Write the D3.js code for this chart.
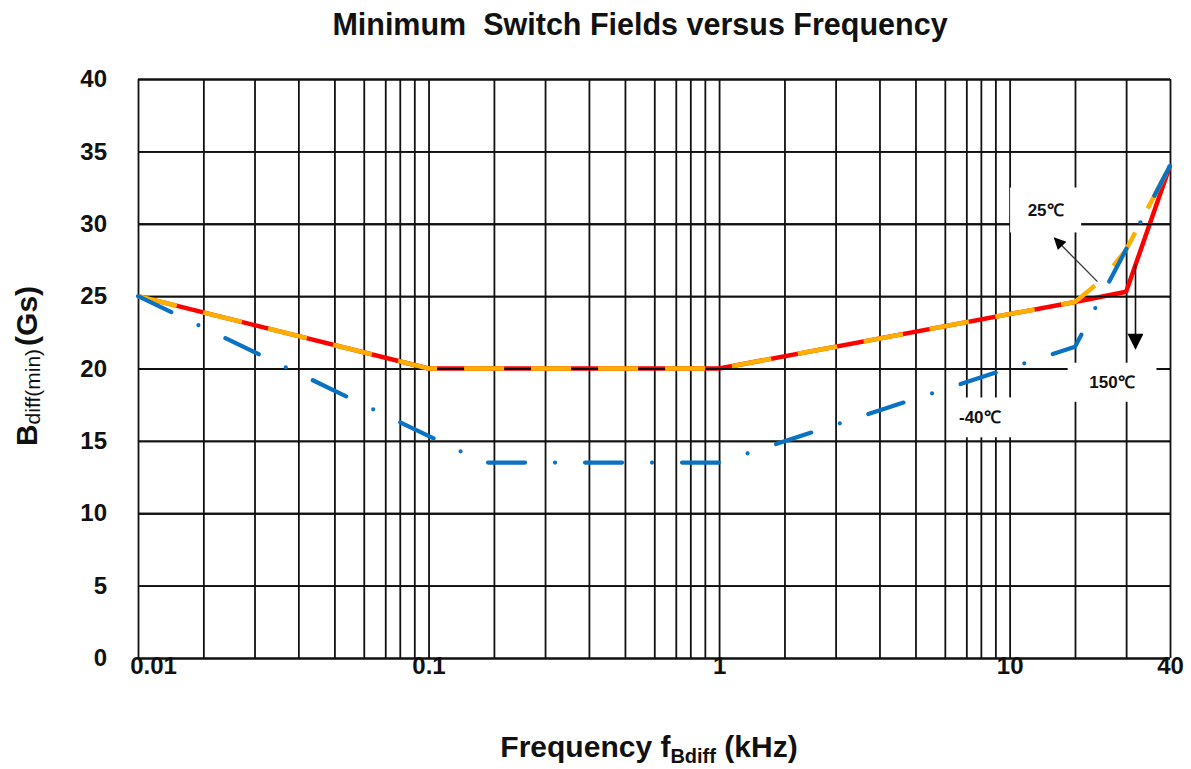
<!DOCTYPE html>
<html>
<head>
<meta charset="utf-8">
<script src="https://cdn.jsdelivr.net/npm/d3@7"></script>
<style>
  body { margin: 0; background: #fff; }
  svg { display: block; }
  text { font-family: "Liberation Sans", Arial, Helvetica, sans-serif; }
</style>
</head>
<body>
<svg id="chart" width="1191" height="769"></svg>
<script>
// ---------------- data ----------------
const chartTitle = "Minimum  Switch Fields versus Frequency";
const freqMin = 0.01;
const freqMax = 40;
const freqTicks = [0.01, 0.1, 1, 10, 40];
const freqTickLabels = ["0.01", "0.1", "1", "10", "40"];
const fieldTicks = [0, 5, 10, 15, 20, 25, 30, 35, 40];
const gridMantissas = [1, 2, 3, 4, 5, 6, 7, 8, 9];

// 150 °C (red, solid)
const freq150 = [0.01, 0.1, 1, 20, 30, 40];
const field150 = [25, 20, 20, 24.6, 25.3, 34];
// 25 °C (orange, dashed)
const freq25 = [0.01, 0.1, 1, 20, 25, 30, 40];
const field25 = [25, 20, 20, 24.6, 26.2, 28.2, 34];
// -40 °C (blue, dash-dot)
const freqM40 = [0.01, 0.18, 1, 20, 40];
const fieldM40 = [25, 13.5, 13.5, 21.5, 34];

// annotations (data units)
const annoLabels = ["25\u2103", "150\u2103", "-40\u2103"];
const annoBoxFreq = [[10.05, 21], [18.5, 36.6], [6.1, 10.3]];
const annoBoxField = [[29.4, 32.5], [17.7, 20.4], [15.25, 18.0]];
const arrowFrom = [[23.9, 26.0], [31.9, 27.2]];
const arrowTo = [[16.1, 29.0], [31.9, 21.4]];

// ---------------- layout ----------------
const plot = { x0: 138, x1: 1170, y0: 79, y1: 658 };
// relative position of mantissas 1..10 inside a decade on the printed grid
const mantissaFrac = [0, 0.225, 0.401, 0.552, 0.676, 0.777, 0.851, 0.901, 0.951, 1];

const svg = d3.select("#chart");

const eMin = Math.round(Math.log10(freqMin));
const eMax = Math.floor(Math.log10(freqMax) + 1e-9);
const mMax = Math.round(freqMax / Math.pow(10, eMax));
const decadeW = (plot.x1 - plot.x0) / ((eMax - eMin) + mantissaFrac[mMax - 1]);

const gridVals = [];
for (let e = eMin; e <= eMax; e++) {
  gridMantissas.forEach(m => {
    const v = +(m * Math.pow(10, e)).toPrecision(6);
    if (v <= freqMax + 1e-9) gridVals.push(v);
  });
}
function gridPos(v) {
  const e = Math.floor(Math.log10(v) + 1e-9);
  const m = Math.round(v / Math.pow(10, e));
  return plot.x0 + (e - eMin) * decadeW + mantissaFrac[m - 1] * decadeW;
}
const xs = d3.scaleLinear()
  .domain(gridVals.map(v => Math.log10(v)))
  .range(gridVals.map(gridPos));
const x = v => xs(Math.log10(v));
const y = d3.scaleLinear().domain([0, 40]).range([plot.y1, plot.y0]);

// ---------------- grid ----------------
const gridColor = "#111";
const gridW = 1.8;
const vGrid = svg.append("g")
  .attr("transform", `translate(0,${plot.y1})`)
  .call(d3.axisBottom(xs).tickValues(gridVals.map(v => Math.log10(v)))
    .tickSize(-(plot.y1 - plot.y0)).tickFormat(""));
vGrid.select(".domain").remove();
vGrid.selectAll("line").attr("stroke", gridColor).attr("stroke-width", gridW);

function drawHGrid() {
  const g = svg.append("g")
    .attr("transform", `translate(${plot.x0},0)`)
    .call(d3.axisLeft(y).tickValues(fieldTicks)
      .tickSize(-(plot.x1 - plot.x0)).tickFormat(""));
  g.select(".domain").remove();
  g.selectAll("line").attr("stroke", gridColor).attr("stroke-width", gridW);
}
drawHGrid();

// ---------------- lines ----------------
const line = d3.line().x(d => x(d[0])).y(d => y(d[1]));
const pts = (fs, bs) => fs.map((f, i) => [f, bs[i]]);

svg.append("path")
  .attr("d", line(pts(freq150, field150)))
  .attr("fill", "none").attr("stroke", "#ff0000")
  .attr("stroke-width", 4.5).attr("stroke-linejoin", "round");

// gridlines show through the red curve where they coincide
drawHGrid();

// annotation boxes mask the grid
annoLabels.forEach((lab, i) => {
  const fx = annoBoxFreq[i], by = annoBoxField[i];
  svg.append("rect")
    .attr("x", x(fx[0])).attr("y", y(by[1]))
    .attr("width", x(fx[1]) - x(fx[0]))
    .attr("height", y(by[0]) - y(by[1]))
    .attr("fill", "#fff");
});

svg.append("path")
  .attr("d", line(pts(freq25, field25)))
  .attr("fill", "none").attr("stroke", "#fdb000")
  .attr("stroke-width", 4.5).attr("stroke-dasharray", "40 27")
  .attr("stroke-linejoin", "round");

svg.append("path")
  .attr("d", line(pts(freqM40, fieldM40)))
  .attr("fill", "none").attr("stroke", "#0a72c2")
  .attr("stroke-width", 4.2).attr("stroke-linecap", "round")
  .attr("stroke-dasharray", "37 30 0 30")
  .attr("stroke-linejoin", "round");

// ---------------- annotation text & arrows ----------------
annoLabels.forEach((lab, i) => {
  const fx = annoBoxFreq[i], by = annoBoxField[i];
  svg.append("text")
    .attr("x", (x(fx[0]) + x(fx[1])) / 2)
    .attr("y", (y(by[0]) + y(by[1])) / 2)
    .attr("dy", "0.36em")
    .attr("text-anchor", "middle")
    .attr("font-size", 17).attr("font-weight", "bold")
    .attr("fill", "#111")
    .text(lab);
});

const defs = svg.append("defs");
defs.append("marker")
  .attr("id", "ah2").attr("viewBox", "0 0 10 10")
  .attr("refX", 9).attr("refY", 5)
  .attr("markerWidth", 15).attr("markerHeight", 12)
  .attr("markerUnits", "userSpaceOnUse")
  .attr("orient", "auto")
  .append("path").attr("d", "M0,0 L10,5 L0,10 Z").attr("fill", "#000");
defs.append("marker")
  .attr("id", "ah3").attr("viewBox", "0 0 10 10")
  .attr("refX", 9).attr("refY", 5)
  .attr("markerWidth", 19).attr("markerHeight", 16)
  .attr("markerUnits", "userSpaceOnUse")
  .attr("orient", "auto")
  .append("path").attr("d", "M0,0 L10,5 L0,10 Z").attr("fill", "#000");

arrowFrom.forEach((a, i) => {
  const b = arrowTo[i];
  svg.append("line")
    .attr("x1", x(a[0])).attr("y1", y(a[1]))
    .attr("x2", x(b[0])).attr("y2", y(b[1]))
    .attr("stroke", i === 0 ? "#333" : "#111")
    .attr("stroke-width", i === 0 ? 1.3 : 1.6)
    .attr("marker-end", i === 0 ? "url(#ah2)" : "url(#ah3)");
});

// ---------------- tick labels ----------------
const xAx = svg.append("g")
  .attr("transform", `translate(0,${plot.y1})`)
  .call(d3.axisBottom(xs).tickValues(freqTicks.map(v => Math.log10(v)))
    .tickSize(0).tickPadding(0)
    .tickFormat((d, i) => freqTickLabels[i]));
xAx.select(".domain").remove();
xAx.selectAll("text")
  .attr("font-size", 24).attr("font-weight", "bold").attr("fill", "#111")
  .attr("font-family", "'Liberation Sans', Arial, sans-serif")
  .attr("dy", null).attr("y", 16)
  .attr("dx", (d, i) => i === 0 ? 15 : 0);

const yAx = svg.append("g")
  .attr("transform", `translate(${plot.x0},0)`)
  .call(d3.axisLeft(y).tickValues(fieldTicks).tickSize(0).tickPadding(31));
yAx.select(".domain").remove();
yAx.selectAll("text")
  .attr("font-size", 24).attr("font-weight", "bold").attr("fill", "#111")
  .attr("font-family", "'Liberation Sans', Arial, sans-serif");

// ---------------- titles ----------------
svg.append("text")
  .attr("x", 640).attr("y", 35)
  .attr("text-anchor", "middle")
  .attr("font-size", 30.5).attr("font-weight", "bold").attr("fill", "#111")
  .style("white-space", "pre")
  .text(chartTitle);

const xt = svg.append("text")
  .attr("x", 649).attr("y", 757)
  .attr("text-anchor", "middle")
  .attr("font-size", 30).attr("font-weight", "bold").attr("fill", "#111");
xt.append("tspan").text("Frequency f");
xt.append("tspan").attr("font-size", 20).attr("dy", 6).text("Bdiff");
xt.append("tspan").attr("dy", -6).text(" (kHz)");

const yt = svg.append("text")
  .attr("transform", "translate(37,366) rotate(-90)")
  .attr("text-anchor", "middle")
  .attr("font-size", 30).attr("font-weight", "bold").attr("fill", "#111");
yt.append("tspan").text("B");
yt.append("tspan").attr("font-size", 21).attr("font-weight", "normal").attr("dy", 3).text("diff(min)");
yt.append("tspan").attr("dy", -3).attr("dx", 3).text("(Gs)");
</script>
</body>
</html>
